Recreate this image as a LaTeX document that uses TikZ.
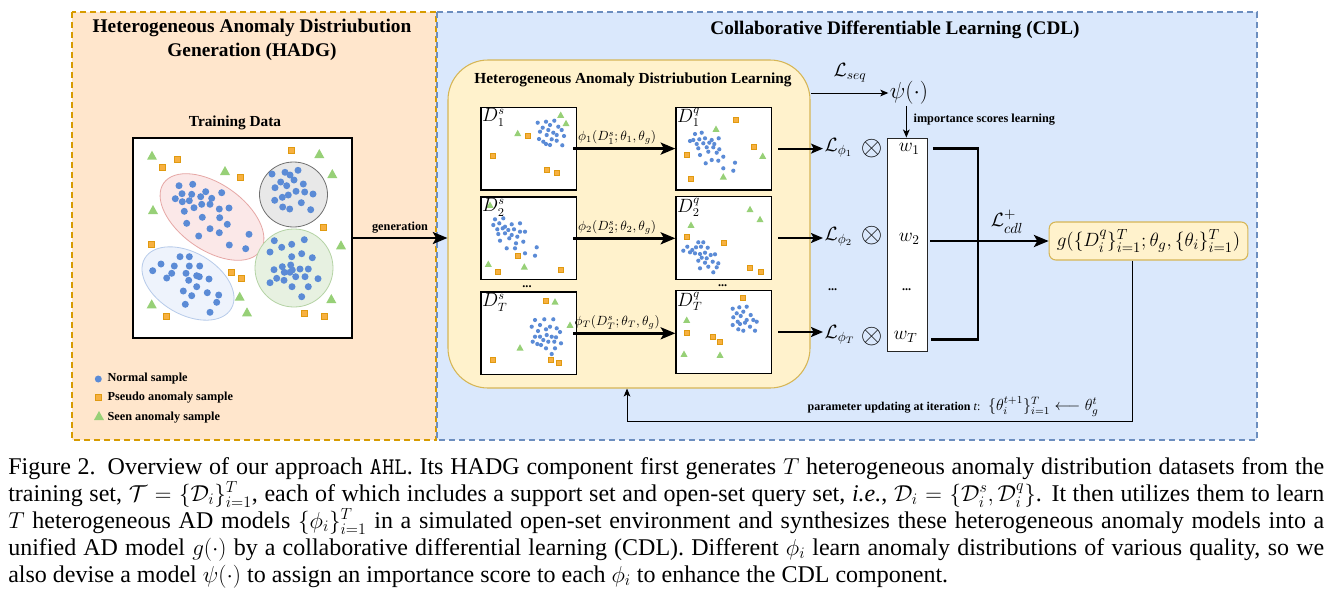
\documentclass[tikz,border=0pt]{standalone}
\usepackage{amsmath,amssymb}
\usepackage{fontspec}
\setmainfont{Liberation Serif}
\usetikzlibrary{arrows.meta}
\definecolor{hadgf}{HTML}{FFE6CC}
\definecolor{hadgd}{HTML}{D79B00}
\definecolor{cdlf}{HTML}{DAE8FC}
\definecolor{cdld}{HTML}{6C8EBF}
\definecolor{yelf}{HTML}{FFF2CC}
\definecolor{yeld}{HTML}{D6B656}
\definecolor{ptblue}{HTML}{5B8BD6}
\definecolor{ptorange}{HTML}{F7B040}
\definecolor{ptorangeD}{HTML}{E09A10}
\definecolor{ptgreen}{HTML}{97D077}
\definecolor{pinkf}{HTML}{FBE8E8}
\definecolor{pinkd}{HTML}{E6A7A5}
\definecolor{grayf}{HTML}{E8E8E8}
\definecolor{grayd}{HTML}{707070}
\definecolor{greenf}{HTML}{E7F1E1}
\definecolor{greend}{HTML}{B5D3A5}
\definecolor{bluef}{HTML}{EEF3FC}
\definecolor{blued}{HTML}{B7CBEA}
\newcommand\ptsN[2]{\foreach \xa/\ya in {#2}{\fill[ptblue] (\xa,\ya) circle[radius=#1];}}
\newcommand\ptsS[2]{\foreach \xa/\ya in {#2}{\filldraw[fill=ptorange,draw=ptorangeD,line width=0.5pt] (\xa,\ya) ++(-#1,-#1) rectangle ++(2*#1,2*#1);}}
\newcommand\ptsT[2]{\foreach \xa/\ya in {#2}{\fill[ptgreen] (\xa,\ya) ++(-#1,0.8*#1) -- ++(2*#1,0) -- ++(-#1,-1.8*#1) -- cycle;}}
\begin{document}
\begin{tikzpicture}[x=0.75pt,y=-0.75pt,
  panelA/.style={fill=hadgf,draw=hadgd,line width=1.1pt,dash pattern=on 4.5pt off 3pt},
  panelB/.style={fill=cdlf,draw=cdld,line width=1.1pt,dash pattern=on 4.5pt off 3pt},
  plotbox/.style={draw=black,line width=0.9pt,fill=white,minimum width=71.8pt,minimum height=62pt,inner sep=0pt},
  ylbox/.style={fill=yelf,draw=yeld,line width=0.8pt},
  bigarr/.style={line width=1.9pt,-{Stealth[length=11pt,width=9pt,inset=2.5pt]}},
  medarr/.style={line width=1.4pt,-{Stealth[length=9pt,width=7.5pt,inset=2pt]}},
  thinarr/.style={line width=0.75pt,-{Stealth[length=6pt,width=5pt,inset=1.5pt]}},
  wline/.style={line width=2.2pt},
  bsm/.style={font=\fontsize{9.2}{11}\selectfont\bfseries,inner sep=1pt},
  mth/.style={font=\fontsize{14.5}{16}\selectfont,inner sep=1pt},
  phil/.style={font=\fontsize{10.3}{12}\selectfont,inner sep=1pt},
  dlab/.style={font=\fontsize{13.5}{15}\selectfont,inner sep=1.2pt,anchor=north west},
  otim/.style={font=\fontsize{21}{22}\selectfont,inner sep=0pt},
]
\useasboundingbox (0,0) rectangle (1341,604);
% panels
\path[panelA] (72,12) rectangle (436,440);
\path[panelB] (437,12) rectangle (1257,440);
\node[font=\fontsize{14.5}{18}\selectfont\bfseries,align=center] (thadg) at (252,40) {Heterogeneous Anomaly Distriubution\\Generation (HADG)};
\node[font=\fontsize{14.4}{16}\selectfont\bfseries] (tcdl) at (895,30) {Collaborative Differentiable Learning (CDL)};
% training data
\node[font=\fontsize{11.5}{13}\selectfont\bfseries] (ttrain) at (235,123) {Training Data};
\node[draw=black,line width=0.9pt,fill=white,minimum width=164.25pt,minimum height=150pt] (train) at (242.5,238) {};
\filldraw[fill=pinkf,draw=pinkd,line width=0.6pt,rotate around={-35:(212,217)}] (212,217) ellipse[x radius=59,y radius=33];
\filldraw[fill=grayf,draw=grayd,line width=0.6pt] (293.5,194.5) ellipse[x radius=34,y radius=32.5];
\filldraw[fill=greenf,draw=greend,line width=0.6pt] (294,268) ellipse[x radius=39,y radius=39];
\filldraw[fill=bluef,draw=blued,line width=0.6pt,rotate around={-30:(188,283.5)}] (188,283.5) ellipse[x radius=50,y radius=31];
\ptsN{3.5}{179/185.7,192.7/184.3,182/193.7,191.7/194.3,200.7/196.7,205.7/191.7,221.7/192.7,175.3/198.7,182.3/201.7,189.3/200.7,201.7/204.3,210/204.3,211.7/198.3,194/207.7,219.3/209,229/208,184.3/211.3,202.3/217.3,219.7/217.7,227.3/224.3,186.7/223.3,210/228.7,219.3/232.7,198.7/236,249/234.3,229.3/245,245.7/248.7,
272/174,285/172.3,298/170.3,290/175,294/180,280.7/182,286.7/185.7,303.3/184,275/187.7,296/191.3,304.7/192,313/194,288.3/195,282.3/197.3,274.7/200.3,301.3/202.7,282.7/207,289.7/209,310.7/209.7,
274.3/240.7,304.3/239.7,291.7/244.3,281.7/247.3,270/252,301.7/253.7,312.3/257.7,291.7/256.7,290.7/265,282.3/266.7,274/269.7,300/269,308.3/269,292.3/270,284.3/272.3,290/272.3,276.7/278.3,284/280.3,295.7/276.7,305/276.7,318/278.7,270/282.7,292/286.7,308.3/286.7,301.7/296.7,
180/256.7,189.3/256.7,161/264,174.3/266,152.7/270.7,189.3/266,199.7/266,171.7/273.3,166.7/278,186/273.3,196.7/275.7,188.7/280.3,199.3/276.7,209/279,196.7/286.7,183.3/291,207.3/292.7,218.7/295,191.7/295.7,216.7/302.3,185.3/304.3,210/312.3}
\ptsS{3}{177.7/159,162.3/167,240.3/177.7,291.7/150.7,323.3/227,151/244.3,231.7/272.7,241.3/278.7,166/316.3,304.3/313,324.3/316.3}
\ptsT{5}{152/155.7,225/171,319.3/154,332.3/174,153/210,341/245.3,239.7/296.7,151.7/304.3,247/312.3,331.3/299}
% legend
\ptsN{3.5}{98.3/379}
\ptsS{3}{98.3/397}
\ptsT{5}{99/416}
\node[bsm,anchor=west] (lg1) at (106,379) {Normal sample};
\node[bsm,anchor=west] (lg2) at (106,397.5) {Pseudo anomaly sample};
\node[bsm,anchor=west] (lg3) at (106,417.5) {Seen anomaly sample};
% HADL box
\node[ylbox,rounded corners=30pt,minimum width=271.5pt,minimum height=246pt] (hadl) at (629,224) {};
\node[font=\fontsize{11.5}{13}\selectfont\bfseries] (thadl) at (633,80) {Heterogeneous Anomaly Distriubution Learning};
\draw[bigarr] (train.east) -- (train.east -| hadl.west) node[bsm,pos=0.5,above=2pt] (gen) {generation};
% plot boxes
\node[plotbox] (d1s) at (528.8,148.6) {};
\node[plotbox] (d1q) at (723.8,148.6) {};
\node[plotbox] (d2s) at (528.8,238.3) {};
\node[plotbox] (d2q) at (723.8,238.0) {};
\node[plotbox] (dts) at (528.8,333.3) {};
\node[plotbox] (dtq) at (723.8,332.0) {};
% D1s
\ptsN{2.1}{537.7/122.7,546/121.7,554.3/120.7,550/125,542.7/127.7,548.3/130,558.3/126.7,540/131.7,553.3/132.7,561.7/130,546.7/135,556.7/135,539/139,551.7/139.3,564/136,543.3/141.7,556.7/140.7,546/144,550/145,562.3/145.3}
\ptsT{3.5}{560.7/115,566/123.3,517.7/133.3}
\ptsS{2.5}{528.3/135.7,493.3/155.7,546.7/170,556.7/173.3}
% D1q
\ptsN{2.1}{695/134,701.7/132.7,693.3/140,699.3/139.3,705/138.3,711.7/140,718.7/138.3,690/141,696.7/144,703.3/143.3,709.3/142.7,714.3/144,698.3/148.3,706.7/147.3,713.3/147.3,719.3/149.3,700/155,708.3/151.7,716.7/152.7,723.3/156.7,711.7/160,718.3/160.7,705.7/163.3,735/162.7,723.3/168.3,733.3/170.7}
\ptsT{3.5}{716/129,762.7/156,723.3/176.7}
\ptsS{2.5}{736/120,754.3/147.3,686.7/154.7,691/179.3}
% D2s
\ptsN{2.1}{495/219.3,503.3/218.3,493.3/225,499.3/223.3,505/226.7,511.7/224.3,520/223.3,497.3/229.3,502.7/228.3,508.3/230,514/229.3,520/231.7,525/231.7,498.3/234,505/233.3,511.7/235,517.3/236.7,500/240.7,509.3/238.3,523.3/241.7,516/243.3,506.7/248.3,515/248.3,536.7/247.3,525/253.3,535/255.7}
\ptsT{3.5}{490/205,488.3/264,524.3/266.7}
\ptsS{2.5}{517.7/256,497.7/271.7,561/270}
% D2q
\ptsN{2.1}{687.3/246.7,683.3/250.7,692.3/250,698.3/242.3,703.3/242.3,696/247.3,701/246.7,707.7/247.7,690/252.3,695/253.3,700/254,705/252.7,710.7/255,701.7/257.7,706.7/258.3,715/254.3,698.3/260.7,705/262.7,712.7/261.7,718.3/263.3,700/268.3,708.3/266.7,716.7/267.3,713.3/272.3}
\ptsT{3.5}{750/209.3,760/219.3,691/225}
\ptsS{2.5}{686.7/236.7,724.3/243.3,750/268.3,761/272.3}
% DTs
\ptsN{2.1}{535/320,544.3/319.3,553.3/319.3,540/325,550/326.7,531.7/326.7,546/329.3,556.7/328.3,535/336.7,540/336.7,546.7/335,551.7/336.7,556/337.3,543.3/340,532.7/341.7,537.3/344,541/345,548.3/341.7,554.3/341.7,561/343.3,546/348.3,555/348.3,551.7/354,560/332,538/331}
\ptsT{3.5}{555/301.7,570/325,520/347.7}
\ptsS{2.5}{546/301,493.3/360,551/360,559.3/362.7}
% DTq
\ptsN{2.1}{732.7/308.7,739.3/307.3,746.7/306.7,736.7/313.3,743.3/311.7,733.3/317.3,740.7/316,750.7/315,746.7/320,753.3/320,756.7/321.7,737.7/321.7,732.7/325,740/324,745/322.7,750/326.7,738.3/329.3,743.3/330.7,755/330.7}
\ptsT{3.5}{686.7/320,684/354,720/355}
\ptsS{2.5}{743.3/297.7,686.7/333.3,712.7/336.7,720/342.3}
% box labels
\node[dlab] (l1s) at (d1s.north west) {$D_1^s$};
\node[dlab] (l1q) at (d1q.north west) {$D_1^q$};
\node[dlab] (l2s) at (d2s.north west) {$D_2^s$};
\node[dlab] (l2q) at (d2q.north west) {$D_2^q$};
\node[dlab] (lts) at (dts.north west) {$D_T^s$};
\node[dlab] (ltq) at (dtq.north west) {$D_T^q$};
\node[bsm] (dd1) at (527,287) {...};
\node[bsm] (dd2) at (722.7,285.7) {...};
% phi arrows
\draw[bigarr] ([xshift=-3pt]d1s.east) -- node[phil,pos=0.43,above=1pt] (p1) {$\phi_1(D_1^s;\theta_1,\theta_g)$} (d1q.west |- d1s.east);
\draw[bigarr] ([xshift=-3pt]d2s.east) -- node[phil,pos=0.43,above=1pt] (p2) {$\phi_2(D_2^s;\theta_2,\theta_g)$} (d2q.west |- d2s.east);
\draw[bigarr] ([xshift=-3pt]dts.east) -- node[phil,pos=0.43,above=1pt] (pt) {$\phi_T(D_T^s;\theta_T,\theta_g)$} (dtq.west |- dts.east);
% losses
\node[mth,anchor=west] (L1) at (823,148) {$\mathcal{L}_{\phi_1}$};
\node[mth,anchor=west] (L2) at (823,237) {$\mathcal{L}_{\phi_2}$};
\node[mth,anchor=west] (LT) at (823,335) {$\mathcal{L}_{\phi_T}$};
\node[otim] (o1) at (871.7,148.5) {$\otimes$};
\node[otim] (o2) at (871.7,235.5) {$\otimes$};
\node[otim] (oT) at (871.7,336.2) {$\otimes$};
\node[bsm] (ddL) at (832.7,290) {...};
\draw[medarr] ([xshift=4.5pt]d1q.east) -- (d1q.east -| L1.west);
\draw[medarr] ([xshift=4.5pt]d2q.east) -- (d2q.east -| L2.west);
\draw[medarr] ([xshift=4.5pt]dtq.east) -- (dtq.east -| LT.west);
% weights
\node[draw=black!85,line width=0.7pt,fill=white,minimum width=30pt,minimum height=159.75pt] (wbox) at (907,244.5) {};
\node[mth] (w1) at (909.3,149.3) {$w_1$};
\node[mth] (w2) at (909.3,239.3) {$w_2$};
\node[bsm] (wdd) at (906.7,290) {...};
\node[mth] (wT) at (905.5,336.7) {$w_T$};
% psi
\node[mth] (Lseq) at (850,73) {$\mathcal{L}_{seq}$};
\node[font=\fontsize{16}{18}\selectfont,inner sep=1pt] (psi) at (909,93) {$\psi(\cdot)$};
\coordinate (seqstart) at (811,93);
\draw[thinarr] (seqstart) -- (psi.west);
\draw[thinarr] ([xshift=-2pt]psi.south) -- ([xshift=-2pt]psi.south |- wbox.north);
\node[bsm,anchor=west] (imp) at (912,119.5) {importance scores learning};
% CDL
\node[ylbox,rounded corners=5pt,minimum width=149pt,minimum height=28.5pt,inner sep=1pt,font=\fontsize{15}{17}\selectfont] (gbox) at (1148.5,241) {$g(\{D_i^q\}_{i=1}^T;\theta_g,\{\theta_i\}_{i=1}^T)$};
\coordinate (jtop) at (978,148.3);
\coordinate (jbot) at (978,339.3);
\draw[wline] ([xshift=4pt]wbox.east |- jtop) -- (jtop) -- (jbot) -- ([xshift=3pt]wbox.east |- jbot);
\draw[wline,-{Stealth[length=11pt,width=9pt,inset=2.5pt]}] ([xshift=2pt]wbox.east |- gbox.west) -- (gbox.west);
\node[font=\fontsize{15}{17}\selectfont,inner sep=1pt] (Lcdl) at (1007,222) {$\mathcal{L}_{cdl}^{+}$};
% feedback
\coordinate (fb1) at (1132,421.7);
\coordinate (fb2) at (627,421.7);
\draw[thinarr] (gbox.south -| fb1) -- (fb1) -- (fb2) -- (fb2 |- hadl.south);
\node[anchor=west,inner sep=1pt,font=\fontsize{11.5}{13}\selectfont] (fbl) at (806,406.7) {{\fontsize{9}{11}\selectfont\bfseries parameter updating at iteration }{\fontsize{9}{11}\selectfont\textit{t}:}\ \ $\{\theta_i^{t+1}\}_{i=1}^T\longleftarrow\theta_g^t$};
% caption
\node[anchor=north west,text width=987pt,align=justify,inner sep=0pt,font=\fontsize{18}{20.25}\selectfont] (cap) at (8,457) {Figure 2.\hspace{0.5em}Overview of our approach \texttt{AHL}. Its HADG component first generates $T$ heterogeneous anomaly distribution datasets from the\linebreak
training set, $\mathcal{T}=\{\mathcal{D}_i\}_{i=1}^T$, each of which includes a support set and open-set query set, \emph{i.e.}, $\mathcal{D}_i=\{\mathcal{D}_i^s,\mathcal{D}_i^q\}$. It then utilizes them to learn\linebreak
$T$ heterogeneous AD models $\{\phi_i\}_{i=1}^T$ in a simulated open-set environment and synthesizes these heterogeneous anomaly models into a\linebreak
unified AD model $g(\cdot)$ by a collaborative differential learning (CDL). Different $\phi_i$ learn anomaly distributions of various quality, so we\linebreak
also devise a model $\psi(\cdot)$ to assign an importance score to each $\phi_i$ to enhance the CDL component.};
\end{tikzpicture}
\end{document}
